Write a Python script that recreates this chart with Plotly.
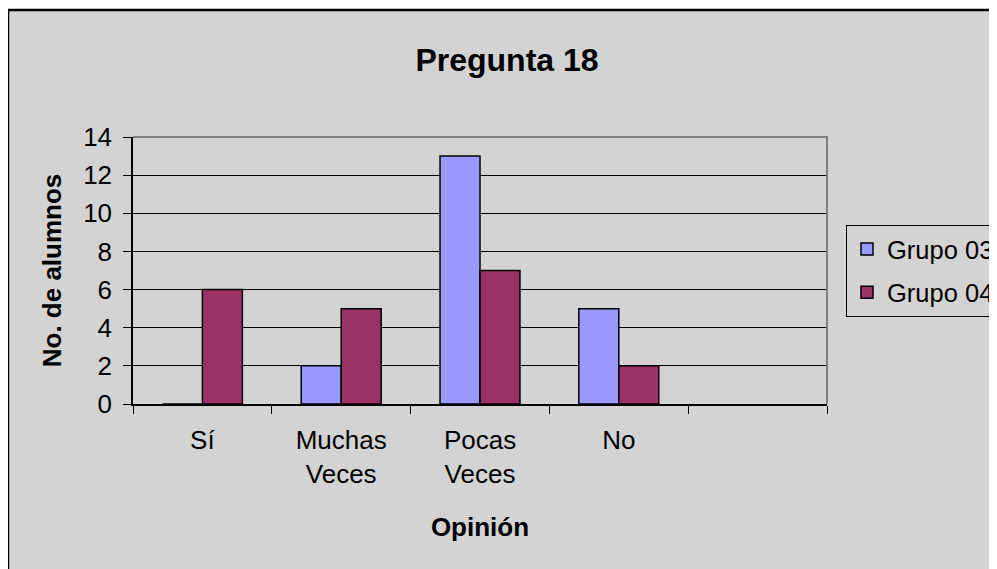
import plotly.graph_objects as go

categories = ["Sí", "Muchas<br>Veces", "Pocas<br>Veces", "No", " "]
grupo03 = [0, 2, 13, 5, None]
grupo04 = [6, 5, 7, 2, None]
series_names = ["Grupo 03", "Grupo 04"]
y_ticks = [0, 2, 4, 6, 8, 10, 12, 14]

# page body has an 8px margin; compensate so the photo matches the reference
OFF = 8
W, H = 997, 569
L = 133 - OFF
T = 137 - OFF
R = W - (827 - OFF)
B = H - (404 - OFF)
pw = W - L - R
ph = H - T - B

def px_x(x):
    return (x - OFF - L) / pw

def px_y(y):
    return (H - B - (y - OFF)) / ph

font = "Arial, Liberation Sans, sans-serif"

fig = go.Figure()
fig.add_trace(go.Bar(x=categories, y=grupo03, name=series_names[0],
                     marker=dict(color="#9999FF", line=dict(color="black", width=1.5)),
                     legendgroup="a"))
fig.add_trace(go.Bar(x=categories, y=grupo04, name=series_names[1],
                     marker=dict(color="#993366", line=dict(color="black", width=1.5)),
                     legendgroup="b"))

fig.update_layout(
    width=W, height=H,
    margin=dict(l=L, r=R, t=T, b=B, autoexpand=False),
    paper_bgcolor="white",
    plot_bgcolor="#C0C0C0",
    barmode="group", bargap=0.424, bargroupgap=0,
    font=dict(family=font, size=26, color="black"),
    title=dict(text="<b>Pregunta 18</b>", x=(507 - OFF) / W, xanchor="center",
               y=1 - (60 - OFF) / H, yanchor="middle", xref="container", yref="container",
               font=dict(size=32, family=font, color="black")),
    showlegend=True,
    legend=dict(x=px_x(846), y=px_y(225), xanchor="left", yanchor="top",
                bgcolor="rgba(0,0,0,0)", bordercolor="black", borderwidth=1,
                font=dict(size=25.5, family=font), traceorder="grouped",
                tracegroupgap=7, itemwidth=30),
    xaxis=dict(type="category", categoryorder="array", categoryarray=categories,
               range=[-0.5, 4.5],
               showline=True, linecolor="black", linewidth=1.5,
               ticks="outside", ticklen=8, tickcolor="black", tickwidth=1,
               tickson="boundaries", showgrid=False,
               tickfont=dict(size=26, family=font),
               ticklabelstandoff=12,
               title=dict(text="<b>Opinión</b>", font=dict(size=26, family=font), standoff=30)),
    yaxis=dict(range=[0, 14], tickvals=y_ticks,
               showline=True, linecolor="black", linewidth=1.5,
               ticks="outside", ticklen=8, tickcolor="black", tickwidth=1,
               showgrid=True, gridcolor="black", gridwidth=1,
               zeroline=False,
               tickfont=dict(size=26, family=font),
               ticklabelstandoff=6,
               title=dict(text="<b>No. de alumnos</b>", font=dict(size=26, family=font), standoff=14)),
    shapes=[
        dict(type="rect", xref="paper", yref="paper", layer="below",
             x0=px_x(8), x1=px_x(1030), y0=px_y(600), y1=px_y(10),
             fillcolor="#D3D3D3", line=dict(color="black", width=2.5)),
        dict(type="path", xref="paper", yref="paper", layer="above",
             path="M 0 1 L 1 1 L 1 0", line=dict(color="#808080", width=2)),
    ],
)

fig.write_html("out.html")
